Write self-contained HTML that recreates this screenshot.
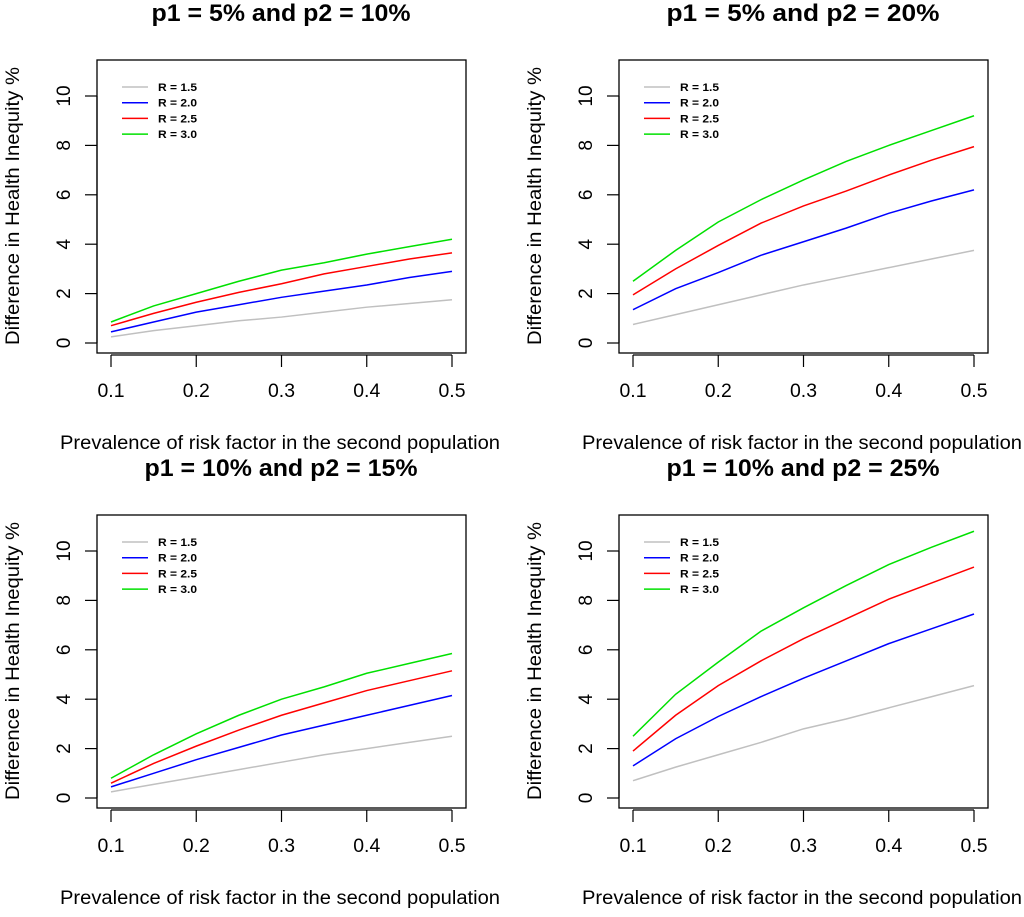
<!DOCTYPE html>
<html><head><meta charset="utf-8"><style>
body{margin:0;background:#fff}
svg text{font-family:"Liberation Sans",Arial,sans-serif}
</style></head><body>
<svg id="c" width="1024" height="912" xmlns="http://www.w3.org/2000/svg"></svg>
<script>
const xVals=[0.1,0.15,0.2,0.25,0.3,0.35,0.4,0.45,0.5];
const xTicks=[0.1,0.2,0.3,0.4,0.5];
const yTicks=[0,2,4,6,8,10];
const seriesNames=["R = 1.5","R = 2.0","R = 2.5","R = 3.0"];
const seriesColors=["#c0c0c0","#0000ff","#ff0000","#00e000"];
const titles=["p1 = 5% and p2 = 10%","p1 = 5% and p2 = 20%","p1 = 10% and p2 = 15%","p1 = 10% and p2 = 25%"];
const panelA=[[0.25,0.5,0.7,0.9,1.05,1.25,1.45,1.6,1.75],[0.45,0.85,1.25,1.55,1.85,2.1,2.35,2.65,2.9],[0.7,1.2,1.65,2.05,2.4,2.8,3.1,3.4,3.65],[0.85,1.5,2.0,2.5,2.95,3.25,3.6,3.9,4.2]];
const panelB=[[0.75,1.15,1.55,1.95,2.35,2.7,3.05,3.4,3.75],[1.35,2.2,2.85,3.55,4.1,4.65,5.25,5.75,6.2],[1.95,3.0,3.95,4.85,5.55,6.15,6.8,7.4,7.95],[2.5,3.75,4.9,5.8,6.6,7.35,8.0,8.6,9.2]];
const panelC=[[0.25,0.55,0.85,1.15,1.45,1.75,2.0,2.25,2.5],[0.45,1.0,1.55,2.05,2.55,2.95,3.35,3.75,4.15],[0.6,1.4,2.1,2.75,3.35,3.85,4.35,4.75,5.15],[0.8,1.75,2.6,3.35,4.0,4.5,5.05,5.45,5.85]];
const panelD=[[0.7,1.25,1.75,2.25,2.8,3.2,3.65,4.1,4.55],[1.3,2.4,3.3,4.1,4.85,5.55,6.25,6.85,7.45],[1.9,3.35,4.55,5.55,6.45,7.25,8.05,8.7,9.35],[2.5,4.2,5.5,6.75,7.7,8.6,9.45,10.15,10.8]];
const panels=[panelA,panelB,panelC,panelD];
const svg=document.getElementById('c');
const NS="http://www.w3.org/2000/svg";
function mk(tag,attrs,parent,text){const e=document.createElementNS(NS,tag);for(const k in attrs)e.setAttribute(k,attrs[k]);if(text!==undefined)e.textContent=text;parent.appendChild(e);return e;}
panels.forEach((data,pi)=>{
  const ox=(pi%2)*522, oy=Math.floor(pi/2)*455;
  const g=mk('g',{},svg);
  
  
  const bx0=97+ox,bx1=466+ox,by0=60+oy,by1=353+oy;
  const sx=v=>111+ox+(v-0.1)/0.4*341;
  const sy=v=>343+oy-v*24.7;
  const tw=pi===0?259:273;
  const t=mk('text',{x:281+ox,y:21+oy,'text-anchor':'middle','font-size':'24','font-weight':'bold',textLength:tw,lengthAdjust:'spacingAndGlyphs'},g,titles[pi]);
  
  
  const box=mk('rect',{x:bx0,y:by0,width:bx1-bx0,height:by1-by0,fill:'none',stroke:'#000','stroke-width':1.3},g);
  
  
  mk('line',{x1:sx(0.1),x2:sx(0.5),y1:by1+2,y2:by1+2,stroke:'#000','stroke-width':1.2},g);
  xTicks.forEach(v=>{
    mk('line',{x1:sx(v),x2:sx(v),y1:by1+2,y2:by1+14,stroke:'#000','stroke-width':1.2},g);
    const tl=mk('text',{x:sx(v),y:397+oy,'text-anchor':'middle','font-size':'19',textLength:27,lengthAdjust:'spacingAndGlyphs'},g,v.toFixed(1));
    
    
  });
  mk('line',{x1:bx0,x2:bx0,y1:sy(0),y2:sy(10),stroke:'#000','stroke-width':1.2},g);
  yTicks.forEach(v=>{
    mk('line',{x1:bx0-12,x2:bx0,y1:sy(v),y2:sy(v),stroke:'#000','stroke-width':1.2},g);
    const tl=mk('text',{x:0,y:0,'text-anchor':'middle','font-size':'19',transform:`translate(${70+ox},${sy(v)}) rotate(-90)`},g,String(v));
    
    
  });
  const xl=mk('text',{x:280+ox,y:449+oy,'text-anchor':'middle','font-size':'19',textLength:440,lengthAdjust:'spacingAndGlyphs'},g,'Prevalence of risk factor in the second population');
  
  
  const yl=mk('text',{x:0,y:0,'text-anchor':'middle','font-size':'19',textLength:278,lengthAdjust:'spacingAndGlyphs',transform:`translate(${19+ox},${206+oy}) rotate(-90)`},g,'Difference in Health Inequity %');
  
  
  data.forEach((s,si)=>{
    const p=mk('polyline',{points:s.map((v,i)=>sx(xVals[i])+','+sy(v)).join(' '),fill:'none',stroke:seriesColors[si],'stroke-width':1.5},g);
    
    
    const ly=by0+27+si*15.7;
    const ll=mk('line',{x1:bx0+25,x2:bx0+51,y1:ly,y2:ly,stroke:seriesColors[si],'stroke-width':1.5},g);
    
    
    const lt=mk('text',{x:bx0+61,y:ly+4,'font-size':'11','font-weight':'bold',textLength:39,lengthAdjust:'spacingAndGlyphs'},g,seriesNames[si]);
    
    
  });
});
</script>
</body></html>
